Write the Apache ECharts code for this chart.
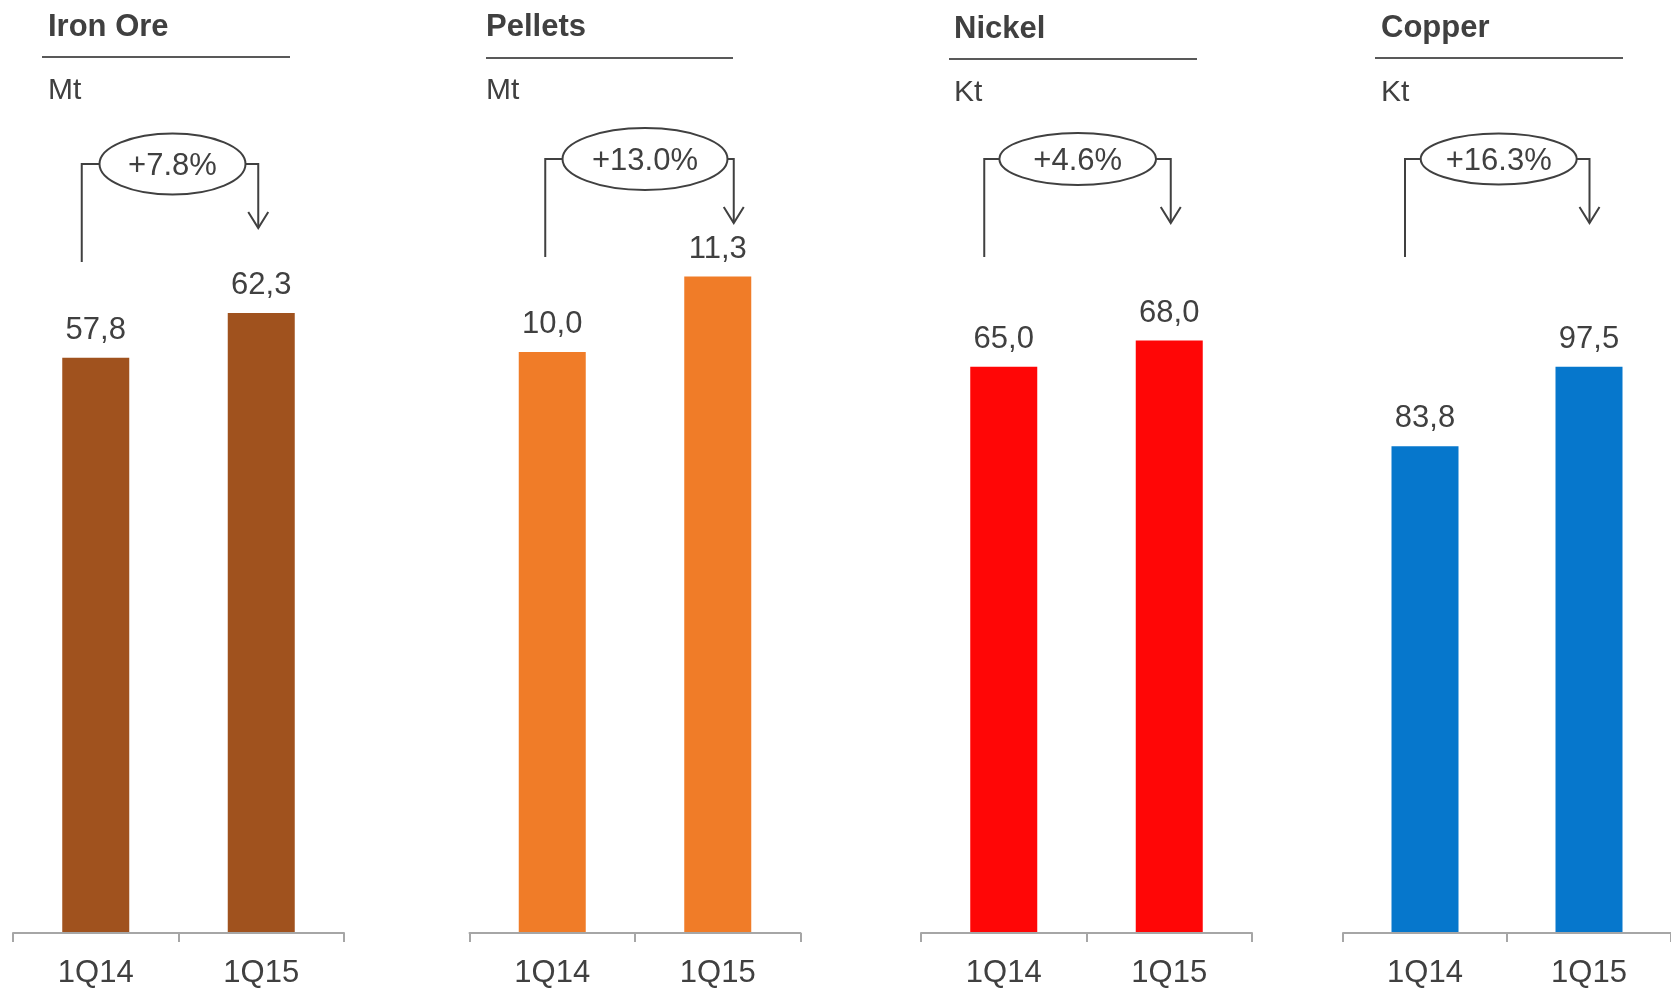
<!DOCTYPE html>
<html>
<head>
<meta charset="utf-8">
<title>Production 1Q14 vs 1Q15</title>
<script src="https://cdn.jsdelivr.net/npm/echarts@6/dist/echarts.min.js"></script>
<style>
  html, body { margin: 0; padding: 0; background: #ffffff; }
  #chart { width: 1671px; height: 989px; }
</style>
</head>
<body>
<div id="chart"></div>
<script>
// Quarterly production by product
const categories = ['1Q14', '1Q15'];
const titles = ['Iron Ore', 'Pellets', 'Nickel', 'Copper'];
const units = ['Mt', 'Mt', 'Kt', 'Kt'];
const ironOre = [57.8, 62.3];
const pellets = [10.0, 11.3];
const nickel = [65.0, 68.0];
const copper = [83.8, 97.5];
const changes = ['+7.8%', '+13.0%', '+4.6%', '+16.3%'];

const seriesValues = [ironOre, pellets, nickel, copper];
const barColors = ['#A0521E', '#F07C28', '#FF0606', '#0677CC'];

// Panel layout
const FONT = "'Liberation Sans', Arial, Helvetica, sans-serif";
const TEXT = '#404040';
const gridLefts = [13, 469.5, 921, 1343];
const gridWidths = [331, 331, 331, 333];
const gridTop = 100;
const gridBottom = 55;
const yMax = [83.7, 14.34, 95.6, 143.4];

// Header block per panel (title, rule, unit)
const titleX = [48, 486, 954, 1381];
const titleY = [27, 27, 29, 28];
const ruleX1 = [42, 486, 949, 1375];
const ruleX2 = [290, 733, 1197, 1623];
const ruleY = [57, 58, 59, 58];
const unitY = [91, 91, 93, 93];

// Growth bracket per panel: ellipse and connector offsets from category centres
const ellCx = [172.5, 645, 1077.7, 1498.7];
const ellCy = [164, 159, 159, 159];
const ellRx = [73, 82.5, 78.3, 78];
const ellRy = [30.5, 31, 26, 25.5];
const leftOffset = [-14, -7, -19.5, -20];
const rightOffset = [-3, 16, 1.5, 0.5];
const leftBottom = [262, 257, 257, 257];
const arrowTip = [228, 223, 223, 223];

const chart = echarts.init(document.getElementById('chart'), null, { renderer: 'canvas' });

const fmt = v => v.toFixed(1).replace('.', ',');

const grid = [], xAxis = [], yAxis = [], series = [];
for (let i = 0; i < 4; i++) {
  grid.push({ left: gridLefts[i], width: gridWidths[i], top: gridTop, bottom: gridBottom, containLabel: false });
  xAxis.push({
    type: 'category',
    gridIndex: i,
    data: categories,
    z: 5,
    axisLine: { show: true, lineStyle: { color: '#A6A6A6', width: 2 } },
    axisTick: { show: true, length: 9, lineStyle: { color: '#A6A6A6', width: 2 } },
    axisLabel: { color: TEXT, fontSize: 31, fontFamily: FONT, margin: 25 },
    splitLine: { show: false }
  });
  yAxis.push({
    type: 'value',
    gridIndex: i,
    min: 0,
    max: yMax[i],
    show: false,
    splitLine: { show: false }
  });
  series.push({
    type: 'bar',
    name: titles[i],
    xAxisIndex: i,
    yAxisIndex: i,
    data: seriesValues[i],
    barWidth: 67,
    itemStyle: { color: barColors[i] },
    label: {
      show: true,
      position: 'top',
      distance: 12,
      color: TEXT,
      fontSize: 31,
      fontFamily: FONT,
      formatter: p => fmt(p.value)
    }
  });
}

chart.setOption({
  animation: false,
  backgroundColor: '#ffffff',
  grid, xAxis, yAxis, series
});

// Headers and growth brackets, anchored to the category positions
const graphics = [];
for (let i = 0; i < 4; i++) {
  const c1 = chart.convertToPixel({ xAxisIndex: i }, categories[0]);
  const c2 = chart.convertToPixel({ xAxisIndex: i }, categories[1]);
  const lx = c1 + leftOffset[i];
  const rx = c2 + rightOffset[i];
  const cy = ellCy[i];

  graphics.push({
    type: 'text', x: titleX[i], y: titleY[i],
    style: { text: titles[i], fill: TEXT, font: 'bold 31px ' + FONT,
             textVerticalAlign: 'middle', verticalAlign: 'middle' }
  });
  graphics.push({
    type: 'line',
    shape: { x1: ruleX1[i], y1: ruleY[i], x2: ruleX2[i], y2: ruleY[i] },
    style: { stroke: '#595959', lineWidth: 2 }
  });
  graphics.push({
    type: 'text', x: titleX[i], y: unitY[i],
    style: { text: units[i], fill: TEXT, font: '30px ' + FONT,
             textVerticalAlign: 'middle', verticalAlign: 'middle' }
  });

  // left leg
  graphics.push({
    type: 'polyline',
    shape: { points: [[lx, leftBottom[i]], [lx, cy], [ellCx[i] - ellRx[i], cy]] },
    style: { stroke: '#404040', lineWidth: 2, fill: null }
  });
  // right leg with arrow
  graphics.push({
    type: 'polyline',
    shape: { points: [[ellCx[i] + ellRx[i], cy], [rx, cy], [rx, arrowTip[i]]] },
    style: { stroke: '#404040', lineWidth: 2, fill: null }
  });
  graphics.push({
    type: 'polyline',
    shape: { points: [[rx - 10, arrowTip[i] - 16], [rx, arrowTip[i]], [rx + 10, arrowTip[i] - 16]] },
    style: { stroke: '#404040', lineWidth: 2, fill: null }
  });
  graphics.push({
    type: 'ellipse',
    shape: { cx: ellCx[i], cy: cy, rx: ellRx[i], ry: ellRy[i] },
    style: { fill: '#ffffff', stroke: '#404040', lineWidth: 2 },
    z: 10
  });
  graphics.push({
    type: 'text', x: ellCx[i], y: cy + 2, z: 11,
    style: { text: changes[i], fill: TEXT, font: '31px ' + FONT,
             textAlign: 'center', align: 'center',
             textVerticalAlign: 'middle', verticalAlign: 'middle' }
  });
}
chart.setOption({ graphic: graphics });
</script>
</body>
</html>
